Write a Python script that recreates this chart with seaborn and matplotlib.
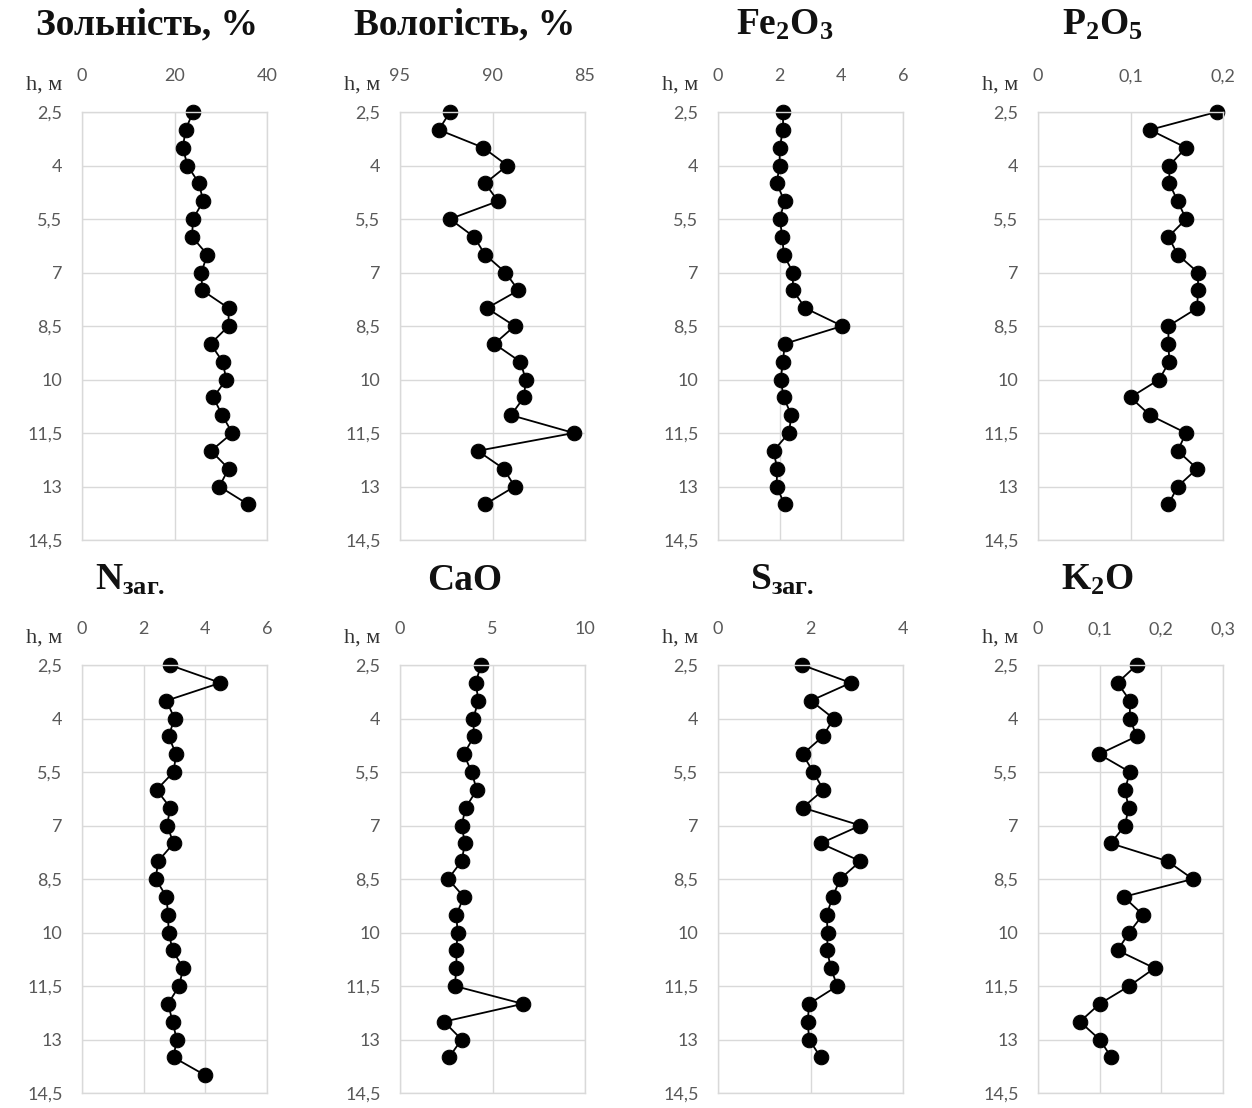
import numpy as np
import pandas as pd
import matplotlib
matplotlib.use('Agg')
import matplotlib.pyplot as plt
import seaborn as sns
from matplotlib.ticker import FuncFormatter

# depth of samples, m
depth = [2.5, 3.0, 3.5, 4.0, 4.5, 5.0, 5.5, 6.0, 6.5, 7.0, 7.5, 8.0,
         8.5, 9.0, 9.5, 10.0, 10.5, 11.0, 11.5, 12.0, 12.5, 13.0, 13.5]
depth_n = depth + [14.0]

ash = [24.0, 22.4, 21.8, 22.8, 25.3, 26.2, 24.0, 23.8, 27.1, 25.8, 26.0, 31.7,
       31.7, 27.8, 30.4, 31.2, 28.4, 30.3, 32.5, 27.9, 31.7, 29.7, 35.9]
moisture = [92.3, 92.9, 90.5, 89.2, 90.4, 89.7, 92.3, 91.0, 90.4, 89.3, 88.6, 90.3,
            88.8, 89.9, 88.5, 88.2, 88.3, 89.0, 85.6, 90.8, 89.4, 88.8, 90.4]
fe2o3 = [2.11, 2.11, 2.0, 2.0, 1.9, 2.16, 2.0, 2.09, 2.13, 2.43, 2.43, 2.83,
         4.03, 2.16, 2.11, 2.03, 2.13, 2.38, 2.3, 1.8, 1.92, 1.9, 2.16]
p2o5 = [0.193, 0.121, 0.160, 0.142, 0.142, 0.151, 0.160, 0.141, 0.151, 0.173, 0.173, 0.172,
        0.141, 0.141, 0.142, 0.131, 0.100, 0.121, 0.160, 0.151, 0.172, 0.151, 0.141]
n_total = [2.84, 4.49, 2.74, 3.0, 2.81, 3.05, 2.97, 2.42, 2.86, 2.76, 2.97, 2.47,
           2.39, 2.74, 2.79, 2.81, 2.94, 3.28, 3.15, 2.79, 2.94, 3.07, 2.97, 3.99]
cao = [4.38, 4.09, 4.24, 3.96, 4.0, 3.45, 3.87, 4.15, 3.55, 3.33, 3.51, 3.33,
       2.6, 3.45, 3.05, 3.11, 3.05, 3.05, 2.96, 6.64, 2.38, 3.33, 2.65]
s_total = [1.82, 2.87, 2.01, 2.5, 2.27, 1.83, 2.06, 2.28, 1.83, 3.08, 2.22, 3.08,
           2.64, 2.48, 2.35, 2.37, 2.36, 2.44, 2.58, 1.97, 1.94, 1.97, 2.22]
k2o = [0.16, 0.129, 0.149, 0.149, 0.16, 0.099, 0.149, 0.141, 0.147, 0.141, 0.118, 0.21,
       0.251, 0.139, 0.17, 0.148, 0.129, 0.189, 0.148, 0.1, 0.068, 0.1, 0.119]

titles = ['Зольність, %', 'Вологість, %', r'$\mathbf{Fe_2O_3}$', r'$\mathbf{P_2O_5}$',
          r'$\mathbf{N_{заг.}}$', 'CaO', r'$\mathbf{S_{заг.}}$', r'$\mathbf{K_2O}$']
series = [ash, moisture, fe2o3, p2o5, n_total, cao, s_total, k2o]
depths = [depth, depth, depth, depth, depth_n, depth, depth, depth]
xlims = [(0, 40), (95, 85), (0, 6), (0, 0.2), (0, 6), (0, 10), (0, 4), (0, 0.3)]
xticks = [[0, 20, 40], [95, 90, 85], [0, 2, 4, 6], [0, 0.1, 0.2],
          [0, 2, 4, 6], [0, 5, 10], [0, 2, 4], [0, 0.1, 0.2, 0.3]]
yticks = [2.5, 4, 5.5, 7, 8.5, 10, 11.5, 13, 14.5]

W, H = 1252, 1108
plt.rcParams['mathtext.fontset'] = 'custom'
plt.rcParams['mathtext.bf'] = 'Liberation Serif:bold'
plt.rcParams['mathtext.rm'] = 'Liberation Serif'

fig = plt.figure(figsize=(W / 100, H / 100), dpi=100)
fig.patch.set_facecolor('white')

lefts = [82, 400, 718, 1038]
tops = [112, 665]
pw, ph = 185, 428
title_x = [[147, 465, 785, 1102], [130, 465, 782, 1097]]
title_y = [25, 580]

fmt = FuncFormatter(lambda v, p: f'{round(v, 3):g}'.replace('.', ','))
grid_c = '#d9d9d9'
tick_c = '#595959'

for i in range(8):
    row, col = divmod(i, 4)
    l = lefts[col]
    t = tops[row]
    ax = fig.add_axes([l / W, 1 - (t + ph) / H, pw / W, ph / H])
    df = pd.DataFrame({'val': series[i], 'h': depths[i]})
    sns.lineplot(data=df, x='val', y='h', orient='y', sort=False, estimator=None,
                 color='black', lw=1.3, marker='o', markersize=10.5,
                 markeredgecolor='black', clip_on=False, ax=ax)
    ax.set_xlim(*xlims[i])
    ax.set_ylim(14.5, 2.5)
    ax.set_xticks(xticks[i])
    ax.set_yticks(yticks)
    ax.xaxis.set_major_formatter(fmt)
    ax.yaxis.set_major_formatter(fmt)
    ax.xaxis.tick_top()
    ax.tick_params(axis='x', length=0, pad=20, labelsize=13, labelcolor=tick_c)
    ax.tick_params(axis='y', length=0, pad=14, labelsize=13, labelcolor=tick_c)
    for lab in ax.get_xticklabels() + ax.get_yticklabels():
        lab.set_fontfamily('Lato')
    ax.grid(True, color=grid_c, lw=1)
    ax.set_axisbelow(True)
    for sp in ax.spines.values():
        sp.set_color(grid_c)
        sp.set_linewidth(1)
    ax.set_xlabel('')
    ax.set_ylabel('')

    fig.text(title_x[row][col] / W, 1 - title_y[row] / H, titles[i],
             ha='center', va='center', fontsize=27, fontweight='bold',
             family='Liberation Serif', color='#111111')
    fig.text((l - 20) / W, 1 - (t - 27) / H, 'h, м', ha='right', va='center',
             fontsize=16, family='Liberation Serif', color='#333333')

fig.savefig('out.png', dpi=100, facecolor='white')
